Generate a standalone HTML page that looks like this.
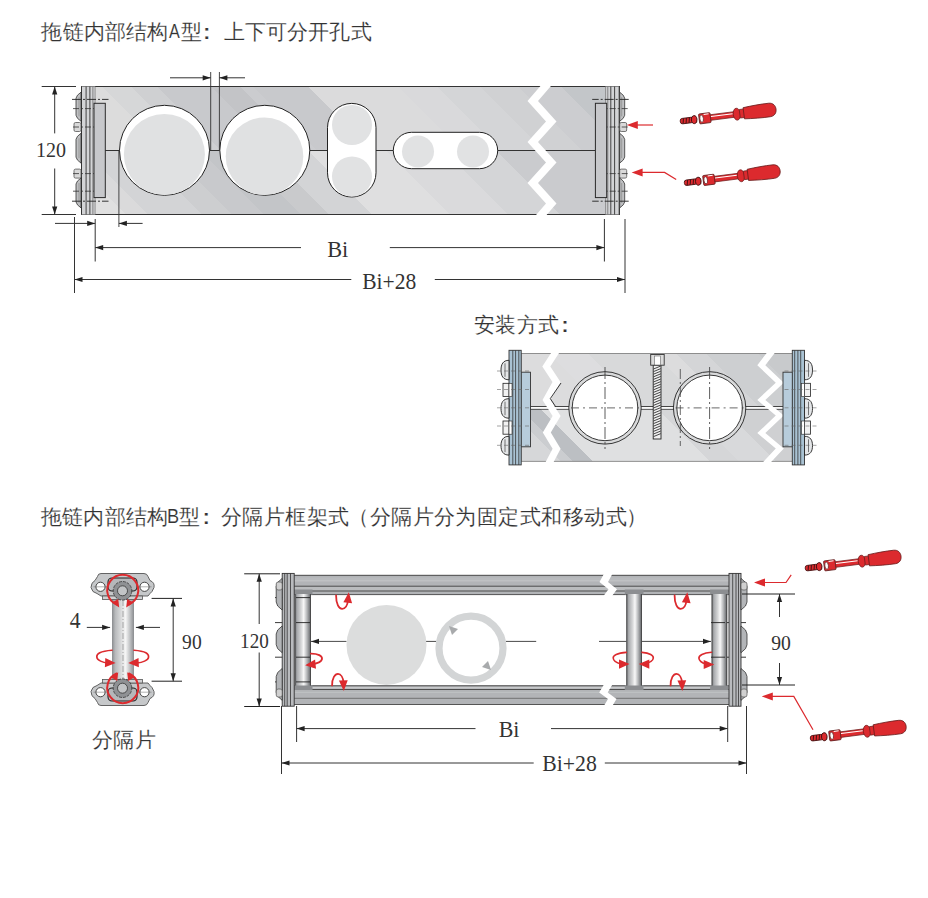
<!DOCTYPE html>
<html><head><meta charset="utf-8">
<style>
html,body{margin:0;padding:0;background:#fff;}
body{width:928px;height:898px;overflow:hidden;position:relative;font-family:"Liberation Sans",sans-serif;}
.t{position:absolute;white-space:nowrap;color:#333;-webkit-text-stroke:0.15px #fff;font-family:"Liberation Sans",sans-serif;font-size:21px;line-height:1;}
.m{font-family:"Liberation Mono",monospace;letter-spacing:0;}
svg{position:absolute;left:0;top:0;}
.sf{font-family:"Liberation Serif",serif;fill:#333;}
</style></head><body>
<svg width="928" height="898" viewBox="0 0 928 898">
<defs>
<linearGradient id="gAu" gradientUnits="userSpaceOnUse" x1="-200" y1="0" x2="250.0" y2="-450.0"><stop offset="0.0000" stop-color="#dcdcdc"/><stop offset="0.2389" stop-color="#dcdcdc"/><stop offset="0.2389" stop-color="#d6d7d8"/><stop offset="0.2722" stop-color="#d6d7d8"/><stop offset="0.2722" stop-color="#cfd0d2"/><stop offset="0.3011" stop-color="#cfd0d2"/><stop offset="0.3011" stop-color="#c8c9cc"/><stop offset="0.3611" stop-color="#c8c9cc"/><stop offset="0.3611" stop-color="#c3c4c7"/><stop offset="0.3933" stop-color="#c3c4c7"/><stop offset="0.3933" stop-color="#cbcccf"/><stop offset="0.4067" stop-color="#cbcccf"/><stop offset="0.4067" stop-color="#c8c9cc"/><stop offset="0.4678" stop-color="#c8c9cc"/><stop offset="0.4678" stop-color="#dbdbdc"/><stop offset="0.5678" stop-color="#dbdbdc"/><stop offset="0.5678" stop-color="#d9d9db"/><stop offset="0.6122" stop-color="#d9d9db"/><stop offset="0.6122" stop-color="#d4d5d7"/><stop offset="0.6589" stop-color="#d4d5d7"/><stop offset="0.6589" stop-color="#d0d1d3"/><stop offset="0.7022" stop-color="#d0d1d3"/><stop offset="0.7022" stop-color="#cccdd0"/><stop offset="0.7489" stop-color="#cccdd0"/><stop offset="0.7489" stop-color="#c3c6c9"/><stop offset="1.0000" stop-color="#c3c6c9"/></linearGradient>
<linearGradient id="gAl" gradientUnits="userSpaceOnUse" x1="-200" y1="0" x2="250.0" y2="-450.0"><stop offset="0.0000" stop-color="#e0e0e0"/><stop offset="0.1244" stop-color="#e0e0e0"/><stop offset="0.1244" stop-color="#dadadb"/><stop offset="0.1478" stop-color="#dadadb"/><stop offset="0.1478" stop-color="#d3d4d6"/><stop offset="0.2078" stop-color="#d3d4d6"/><stop offset="0.2078" stop-color="#cdced0"/><stop offset="0.2422" stop-color="#cdced0"/><stop offset="0.2422" stop-color="#c8c9cc"/><stop offset="0.2767" stop-color="#c8c9cc"/><stop offset="0.2767" stop-color="#c3c5c8"/><stop offset="0.3178" stop-color="#c3c5c8"/><stop offset="0.3178" stop-color="#c9cacc"/><stop offset="0.3489" stop-color="#c9cacc"/><stop offset="0.3489" stop-color="#d3d4d6"/><stop offset="0.3967" stop-color="#d3d4d6"/><stop offset="0.3967" stop-color="#dfdfe0"/><stop offset="0.4844" stop-color="#dfdfe0"/><stop offset="0.4844" stop-color="#dadadc"/><stop offset="0.5478" stop-color="#dadadc"/><stop offset="0.5478" stop-color="#d4d5d7"/><stop offset="0.6056" stop-color="#d4d5d7"/><stop offset="0.6056" stop-color="#cacbce"/><stop offset="1.0000" stop-color="#cacbce"/></linearGradient>
<linearGradient id="gIu" gradientUnits="userSpaceOnUse" x1="-200" y1="0" x2="250.0" y2="-450.0"><stop offset="0.0000" stop-color="#dcdcdd"/><stop offset="0.4389" stop-color="#dcdcdd"/><stop offset="0.4389" stop-color="#dddddf"/><stop offset="0.4833" stop-color="#dddddf"/><stop offset="0.4833" stop-color="#d8d9da"/><stop offset="0.5556" stop-color="#d8d9da"/><stop offset="0.5556" stop-color="#dcdcdd"/><stop offset="0.5811" stop-color="#dcdcdd"/><stop offset="0.5811" stop-color="#d4d5d7"/><stop offset="0.6144" stop-color="#d4d5d7"/><stop offset="0.6144" stop-color="#cdcfd1"/><stop offset="0.6722" stop-color="#cdcfd1"/><stop offset="0.6722" stop-color="#c8cacc"/><stop offset="1.0000" stop-color="#c8cacc"/></linearGradient>
<linearGradient id="gIl" gradientUnits="userSpaceOnUse" x1="-200" y1="0" x2="250.0" y2="-450.0"><stop offset="0.0000" stop-color="#d6d7d9"/><stop offset="0.3333" stop-color="#d6d7d9"/><stop offset="0.3333" stop-color="#cbcdd0"/><stop offset="0.3456" stop-color="#cbcdd0"/><stop offset="0.3456" stop-color="#bcbfc3"/><stop offset="0.3678" stop-color="#bcbfc3"/><stop offset="0.3678" stop-color="#dfe0e1"/><stop offset="0.4978" stop-color="#dfe0e1"/><stop offset="0.4978" stop-color="#d5d6d8"/><stop offset="0.5311" stop-color="#d5d6d8"/><stop offset="0.5311" stop-color="#d8d9db"/><stop offset="0.5722" stop-color="#d8d9db"/><stop offset="0.5722" stop-color="#cfd0d2"/><stop offset="1.0000" stop-color="#cfd0d2"/></linearGradient>
<linearGradient id="gRod" x1="0" y1="0" x2="1" y2="0">
<stop offset="0" stop-color="#8a8c8f"/><stop offset="0.15" stop-color="#b8babc"/><stop offset="0.4" stop-color="#d8d9da"/>
<stop offset="0.62" stop-color="#f6f6f6"/><stop offset="0.8" stop-color="#c4c6c8"/><stop offset="1" stop-color="#8a8c8f"/>
</linearGradient>
<linearGradient id="gRod2" x1="0" y1="0" x2="1" y2="0">
<stop offset="0" stop-color="#6f7174"/><stop offset="0.15" stop-color="#a9abae"/><stop offset="0.4" stop-color="#d6d7d8"/>
<stop offset="0.55" stop-color="#f8f8f8"/><stop offset="0.75" stop-color="#b6b8ba"/><stop offset="0.9" stop-color="#7e8083"/><stop offset="1" stop-color="#5e6063"/>
</linearGradient>
<linearGradient id="gRailT" x1="0" y1="0" x2="0" y2="1">
<stop offset="0" stop-color="#8e9093"/><stop offset="0.08" stop-color="#b9bbbd"/><stop offset="0.3" stop-color="#a9abae"/>
<stop offset="0.42" stop-color="#cfd0d2"/><stop offset="0.5" stop-color="#a4a6a9"/><stop offset="0.72" stop-color="#b4b6b9"/>
<stop offset="0.78" stop-color="#6f7174"/><stop offset="0.84" stop-color="#c9cacc"/><stop offset="0.94" stop-color="#b7b9bb"/><stop offset="1" stop-color="#555"/>
</linearGradient>
<linearGradient id="gRailB" x1="0" y1="1" x2="0" y2="0">
<stop offset="0" stop-color="#8e9093"/><stop offset="0.08" stop-color="#b9bbbd"/><stop offset="0.3" stop-color="#a9abae"/>
<stop offset="0.42" stop-color="#cfd0d2"/><stop offset="0.5" stop-color="#a4a6a9"/><stop offset="0.72" stop-color="#b4b6b9"/>
<stop offset="0.78" stop-color="#6f7174"/><stop offset="0.84" stop-color="#c9cacc"/><stop offset="0.94" stop-color="#b7b9bb"/><stop offset="1" stop-color="#555"/>
</linearGradient>
</defs>
<rect x="81.5" y="86.5" width="538" height="64" fill="url(#gAu)"/>
<rect x="81.5" y="150.5" width="538" height="64" fill="url(#gAl)"/>
<rect x="81.5" y="86.5" width="538" height="128" fill="none" stroke="#333" stroke-width="1"/>
<line x1="105" y1="150.5" x2="595" y2="150.5" stroke="#333" stroke-width="1" />
<line x1="210.7" y1="72" x2="210.7" y2="150" stroke="#333" stroke-width="0.9" />
<line x1="219.4" y1="72" x2="219.4" y2="150" stroke="#333" stroke-width="0.9" />
<circle cx="164.5" cy="150.3" r="45" fill="#fff" stroke="#222" stroke-width="1"/>
<circle cx="164.4" cy="154.5" r="40.5" fill="#e0e1e2"/>
<circle cx="264.8" cy="150.3" r="45" fill="#fff" stroke="#222" stroke-width="1"/>
<circle cx="264.5" cy="156.3" r="38.8" fill="#e0e1e2"/>
<rect x="327.5" y="103.4" width="48.5" height="93.6" rx="24.2" fill="#fff" stroke="#222" stroke-width="1"/>
<circle cx="352" cy="125" r="20" fill="#e1e2e3"/>
<circle cx="352" cy="176.5" r="20" fill="#e1e2e3"/>
<rect x="393.3" y="132.3" width="104.4" height="36.4" rx="18.2" fill="#fff" stroke="#222" stroke-width="1"/>
<circle cx="418" cy="151.5" r="16" fill="#e1e2e3"/>
<circle cx="473" cy="151.5" r="16" fill="#e1e2e3"/>
<polygon points="543.0,83.0 527.5,101.0 546.0,121.6 527.5,142.0 546.0,162.6 527.5,183.0 546.0,203.5 533.0,218.5 543.5,218.5 556.5,203.5 538.0,183.0 556.5,162.6 538.0,142.0 556.5,121.6 538.0,101.0 553.5,83.0" fill="#fff"/>
<g ><rect x="81.5" y="86.5" width="13.5" height="128" fill="#d3d4d6"/><line x1="86.1" y1="86.5" x2="86.1" y2="214.5" stroke="#333" stroke-width="0.9"/><line x1="89.9" y1="86.5" x2="89.9" y2="214.5" stroke="#333" stroke-width="0.9"/><line x1="92.9" y1="86.5" x2="92.9" y2="214.5" stroke="#777" stroke-width="0.9"/><line x1="95.1" y1="86.5" x2="95.1" y2="214.5" stroke="#888" stroke-width="0.9"/><line x1="81.5" y1="86.5" x2="81.5" y2="214.5" stroke="#333" stroke-width="1"/><rect x="94" y="103.3" width="11.3" height="94.3" fill="#c7c8cb" stroke="#2a2a2a" stroke-width="1"/><path d="M81,92.2 L77.5,95.2 L76,98.2 L76,115.3 L77.5,118.3 L81,121.3 Z" fill="#bfc0c2" stroke="#333" stroke-width="0.8"/><line x1="79" y1="97.2" x2="79" y2="116.3" stroke="#888" stroke-width="0.7"/><path d="M81,133.3 L77.5,136.3 L76,139.3 L76,157.1 L77.5,160.1 L81,163.1 Z" fill="#bfc0c2" stroke="#333" stroke-width="0.8"/><line x1="79" y1="138.3" x2="79" y2="158.1" stroke="#888" stroke-width="0.7"/><path d="M81,178 L77.5,181 L76,184 L76,201.9 L77.5,204.9 L81,207.9 Z" fill="#bfc0c2" stroke="#333" stroke-width="0.8"/><line x1="79" y1="183" x2="79" y2="202.9" stroke="#888" stroke-width="0.7"/><rect x="74" y="122.5" width="7" height="9" rx="1.5" fill="#d9d9d9" stroke="#555" stroke-width="0.8"/><rect x="74" y="169.1" width="7" height="9" rx="1.5" fill="#d9d9d9" stroke="#555" stroke-width="0.8"/><line x1="72" y1="99.4" x2="108.5" y2="99.4" stroke="#222" stroke-width="0.9" stroke-dasharray="9,2,2,2"/><line x1="72" y1="201.2" x2="108.5" y2="201.2" stroke="#222" stroke-width="0.9" stroke-dasharray="9,2,2,2"/><line x1="73" y1="108.6" x2="94" y2="108.6" stroke="#333" stroke-width="0.8" stroke-dasharray="6,2,2,2"/><line x1="73" y1="127" x2="94" y2="127" stroke="#333" stroke-width="0.8" stroke-dasharray="6,2,2,2"/><line x1="73" y1="173.6" x2="94" y2="173.6" stroke="#333" stroke-width="0.8" stroke-dasharray="6,2,2,2"/><line x1="73" y1="191.2" x2="94" y2="191.2" stroke="#333" stroke-width="0.8" stroke-dasharray="6,2,2,2"/></g>
<g transform="translate(700.7,0) scale(-1,1)"><rect x="81.5" y="86.5" width="13.5" height="128" fill="#d3d4d6"/><line x1="86.1" y1="86.5" x2="86.1" y2="214.5" stroke="#333" stroke-width="0.9"/><line x1="89.9" y1="86.5" x2="89.9" y2="214.5" stroke="#333" stroke-width="0.9"/><line x1="92.9" y1="86.5" x2="92.9" y2="214.5" stroke="#777" stroke-width="0.9"/><line x1="95.1" y1="86.5" x2="95.1" y2="214.5" stroke="#888" stroke-width="0.9"/><line x1="81.5" y1="86.5" x2="81.5" y2="214.5" stroke="#333" stroke-width="1"/><rect x="94" y="103.3" width="11.3" height="94.3" fill="#c7c8cb" stroke="#2a2a2a" stroke-width="1"/><path d="M81,92.2 L77.5,95.2 L76,98.2 L76,115.3 L77.5,118.3 L81,121.3 Z" fill="#bfc0c2" stroke="#333" stroke-width="0.8"/><line x1="79" y1="97.2" x2="79" y2="116.3" stroke="#888" stroke-width="0.7"/><path d="M81,133.3 L77.5,136.3 L76,139.3 L76,157.1 L77.5,160.1 L81,163.1 Z" fill="#bfc0c2" stroke="#333" stroke-width="0.8"/><line x1="79" y1="138.3" x2="79" y2="158.1" stroke="#888" stroke-width="0.7"/><path d="M81,178 L77.5,181 L76,184 L76,201.9 L77.5,204.9 L81,207.9 Z" fill="#bfc0c2" stroke="#333" stroke-width="0.8"/><line x1="79" y1="183" x2="79" y2="202.9" stroke="#888" stroke-width="0.7"/><rect x="74" y="122.5" width="7" height="9" rx="1.5" fill="#d9d9d9" stroke="#555" stroke-width="0.8"/><rect x="74" y="169.1" width="7" height="9" rx="1.5" fill="#d9d9d9" stroke="#555" stroke-width="0.8"/><line x1="72" y1="99.4" x2="108.5" y2="99.4" stroke="#222" stroke-width="0.9" stroke-dasharray="9,2,2,2"/><line x1="72" y1="201.2" x2="108.5" y2="201.2" stroke="#222" stroke-width="0.9" stroke-dasharray="9,2,2,2"/><line x1="73" y1="108.6" x2="94" y2="108.6" stroke="#333" stroke-width="0.8" stroke-dasharray="6,2,2,2"/><line x1="73" y1="127" x2="94" y2="127" stroke="#333" stroke-width="0.8" stroke-dasharray="6,2,2,2"/><line x1="73" y1="173.6" x2="94" y2="173.6" stroke="#333" stroke-width="0.8" stroke-dasharray="6,2,2,2"/><line x1="73" y1="191.2" x2="94" y2="191.2" stroke="#333" stroke-width="0.8" stroke-dasharray="6,2,2,2"/></g>
<line x1="41.7" y1="86.5" x2="76" y2="86.5" stroke="#333" stroke-width="1" />
<line x1="41.7" y1="214.5" x2="76" y2="214.5" stroke="#333" stroke-width="1" />
<line x1="54.7" y1="86.5" x2="54.7" y2="133.4" stroke="#333" stroke-width="1" />
<polygon points="54.7,86.5 57.3,94.5 52.1,94.5" fill="#222"/>
<line x1="54.7" y1="168.5" x2="54.7" y2="214.5" stroke="#333" stroke-width="1" />
<polygon points="54.7,214.5 52.1,206.5 57.3,206.5" fill="#222"/>
<text x="35.9" y="157.0" class="sf" font-size="20.31" textLength="30.0" lengthAdjust="spacingAndGlyphs">120</text>
<line x1="170" y1="77.8" x2="210.7" y2="77.8" stroke="#333" stroke-width="1" />
<polygon points="210.7,77.8 202.7,80.4 202.7,75.2" fill="#222"/>
<line x1="219.4" y1="77.8" x2="245" y2="77.8" stroke="#333" stroke-width="1" />
<polygon points="219.4,77.8 227.4,75.2 227.4,80.4" fill="#222"/>
<line x1="118.9" y1="150" x2="118.9" y2="227" stroke="#333" stroke-width="0.9" />
<line x1="55" y1="223.4" x2="95.2" y2="223.4" stroke="#333" stroke-width="1" />
<polygon points="95.2,223.4 87.2,226.0 87.2,220.8" fill="#222"/>
<line x1="118.9" y1="223.4" x2="142.6" y2="223.4" stroke="#333" stroke-width="1" />
<polygon points="118.9,223.4 126.9,220.8 126.9,226.0" fill="#222"/>
<line x1="95.2" y1="219" x2="95.2" y2="261.5" stroke="#333" stroke-width="1" />
<line x1="604.4" y1="219" x2="604.4" y2="261.5" stroke="#333" stroke-width="1" />
<line x1="95.2" y1="247.6" x2="301" y2="247.6" stroke="#333" stroke-width="1" />
<polygon points="95.2,247.6 103.2,245.0 103.2,250.2" fill="#222"/>
<line x1="389.8" y1="247.6" x2="604.4" y2="247.6" stroke="#333" stroke-width="1" />
<polygon points="604.4,247.6 596.4,250.2 596.4,245.0" fill="#222"/>
<text x="327.24" y="256.7" class="sf" font-size="22.62" textLength="21.1" lengthAdjust="spacingAndGlyphs">Bi</text>
<line x1="74.5" y1="217" x2="74.5" y2="293" stroke="#333" stroke-width="1" />
<line x1="625" y1="219" x2="625" y2="293" stroke="#333" stroke-width="1" />
<line x1="74.5" y1="279.5" x2="351.3" y2="279.5" stroke="#333" stroke-width="1" />
<polygon points="74.5,279.5 82.5,276.9 82.5,282.1" fill="#222"/>
<line x1="434.8" y1="279.5" x2="625" y2="279.5" stroke="#333" stroke-width="1" />
<polygon points="625.0,279.5 617.0,282.1 617.0,276.9" fill="#222"/>
<text x="362.26" y="288.7" class="sf" font-size="22.77" textLength="54.07" lengthAdjust="spacingAndGlyphs">Bi+28</text>
<line x1="653" y1="125" x2="634" y2="125" stroke="#dc2a2e" stroke-width="1.2"/>
<polygon points="626.8,125.0 637.8,121.0 637.8,129.0" fill="#dc2a2e"/>
<polyline points="676.2,179.6 664.6,172.4 638,172.4" fill="none" stroke="#dc2a2e" stroke-width="1.2"/>
<polygon points="631.6,172.4 642.6,168.4 642.6,176.4" fill="#dc2a2e"/>
<g transform="translate(680.3,121.4) rotate(-7.3) scale(1.0)"><rect x="0" y="-2.7" width="13" height="5.4" rx="2.2" fill="#dc2a2e" stroke="#4a1414" stroke-width="0.9"/><path d="M3.5,-2.5 l-1,5 M6.5,-2.5 l-1,5 M9.5,-2.5 l-1,5" stroke="#3a1010" stroke-width="0.9"/><ellipse cx="14" cy="0" rx="2.8" ry="4" fill="#dc2a2e" stroke="#3a1010" stroke-width="0.9"/><rect x="19" y="-5" width="11.5" height="10" rx="1" fill="#dc2a2e" stroke="#5a1a1a" stroke-width="0.8"/><ellipse cx="21.5" cy="0" rx="1.8" ry="3.6" fill="#fff" stroke="#5a1a1a" stroke-width="0.7"/><path d="M24,-4 h5" stroke="#fff" stroke-width="1"/><rect x="30.5" y="-2.8" width="24" height="5.6" fill="#dc2a2e" stroke="#6a1c1c" stroke-width="0.7"/><path d="M31,-1 h22" stroke="#fff" stroke-width="1"/><ellipse cx="57" cy="0" rx="3.6" ry="6" fill="#dc2a2e" stroke="#6a1c1c" stroke-width="0.7"/><rect x="60" y="-4.3" width="5" height="8.6" fill="#dc2a2e" stroke="#6a1c1c" stroke-width="0.7"/><path d="M64,-5.6 C72,-6.4 82,-7 90,-6.8 C94.5,-6.6 96.5,-3.5 96.5,0 C96.5,3.5 94.5,6.6 90,6.8 C82,7 72,6.4 64,5.6 Z" fill="#dc2a2e" stroke="#6a1c1c" stroke-width="0.8"/></g>
<g transform="translate(684.4,183) rotate(-7.3) scale(1.0)"><rect x="0" y="-2.7" width="13" height="5.4" rx="2.2" fill="#dc2a2e" stroke="#4a1414" stroke-width="0.9"/><path d="M3.5,-2.5 l-1,5 M6.5,-2.5 l-1,5 M9.5,-2.5 l-1,5" stroke="#3a1010" stroke-width="0.9"/><ellipse cx="14" cy="0" rx="2.8" ry="4" fill="#dc2a2e" stroke="#3a1010" stroke-width="0.9"/><rect x="19" y="-5" width="11.5" height="10" rx="1" fill="#dc2a2e" stroke="#5a1a1a" stroke-width="0.8"/><ellipse cx="21.5" cy="0" rx="1.8" ry="3.6" fill="#fff" stroke="#5a1a1a" stroke-width="0.7"/><path d="M24,-4 h5" stroke="#fff" stroke-width="1"/><rect x="30.5" y="-2.8" width="24" height="5.6" fill="#dc2a2e" stroke="#6a1c1c" stroke-width="0.7"/><path d="M31,-1 h22" stroke="#fff" stroke-width="1"/><ellipse cx="57" cy="0" rx="3.6" ry="6" fill="#dc2a2e" stroke="#6a1c1c" stroke-width="0.7"/><rect x="60" y="-4.3" width="5" height="8.6" fill="#dc2a2e" stroke="#6a1c1c" stroke-width="0.7"/><path d="M64,-5.6 C72,-6.4 82,-7 90,-6.8 C94.5,-6.6 96.5,-3.5 96.5,0 C96.5,3.5 94.5,6.6 90,6.8 C82,7 72,6.4 64,5.6 Z" fill="#dc2a2e" stroke="#6a1c1c" stroke-width="0.8"/></g>
<rect x="521" y="353.5" width="272.5" height="54.5" fill="url(#gIu)"/>
<rect x="521" y="408" width="272.5" height="53.3" fill="url(#gIl)"/>
<rect x="521" y="353.5" width="272.5" height="107.8" fill="none" stroke="#777" stroke-width="0.8"/>
<line x1="530" y1="406.6" x2="784" y2="406.6" stroke="#222" stroke-width="0.9" />
<line x1="530" y1="409.2" x2="784" y2="409.2" stroke="#222" stroke-width="0.9" />
<rect x="530" y="407.1" width="254" height="1.6" fill="#fff"/>
<circle cx="605" cy="407.9" r="36.2" fill="#d8d9da" stroke="#222" stroke-width="0.9"/>
<circle cx="605" cy="407.9" r="32.8" fill="#fff" stroke="#222" stroke-width="0.9"/>
<line x1="605" y1="367" x2="605" y2="449" stroke="#333" stroke-width="0.8" stroke-dasharray="12,3,2,3"/>
<line x1="571" y1="407.9" x2="639" y2="407.9" stroke="#444" stroke-width="0.8" stroke-dasharray="8,4,2,4"/>
<circle cx="709.6" cy="407.9" r="36.2" fill="#d8d9da" stroke="#222" stroke-width="0.9"/>
<circle cx="709.6" cy="407.9" r="32.8" fill="#fff" stroke="#222" stroke-width="0.9"/>
<line x1="709.6" y1="367" x2="709.6" y2="449" stroke="#333" stroke-width="0.8" stroke-dasharray="12,3,2,3"/>
<line x1="675.6" y1="407.9" x2="743.6" y2="407.9" stroke="#444" stroke-width="0.8" stroke-dasharray="8,4,2,4"/>
<line x1="680.3" y1="369" x2="680.3" y2="446" stroke="#444" stroke-width="0.8" stroke-dasharray="10,3,2,3"/>
<rect x="653.2" y="365" width="7.8" height="74" fill="#f0f0f0" stroke="#222" stroke-width="0.9"/>
<path d="M653.5,369.0 L660.8,366.0 M653.5,371.6 L660.8,368.6 M653.5,374.2 L660.8,371.2 M653.5,376.8 L660.8,373.8 M653.5,379.4 L660.8,376.4 M653.5,382.0 L660.8,379.0 M653.5,384.6 L660.8,381.6 M653.5,387.2 L660.8,384.2 M653.5,389.8 L660.8,386.8 M653.5,392.4 L660.8,389.4 M653.5,395.0 L660.8,392.0 M653.5,397.6 L660.8,394.6 M653.5,400.2 L660.8,397.2 M653.5,402.8 L660.8,399.8 M653.5,405.4 L660.8,402.4 M653.5,408.0 L660.8,405.0 M653.5,410.6 L660.8,407.6 M653.5,413.2 L660.8,410.2 M653.5,415.8 L660.8,412.8 M653.5,418.4 L660.8,415.4 M653.5,421.0 L660.8,418.0 M653.5,423.6 L660.8,420.6 M653.5,426.2 L660.8,423.2 M653.5,428.8 L660.8,425.8 M653.5,431.4 L660.8,428.4 M653.5,434.0 L660.8,431.0 M653.5,436.6 L660.8,433.6" stroke="#333" stroke-width="0.9"/>
<rect x="650.7" y="354.5" width="13.5" height="10.7" fill="#dcdcdc" stroke="#333" stroke-width="0.9"/>
<rect x="654.5" y="356" width="6" height="9" fill="#fff" stroke="#666" stroke-width="0.6"/>
<polygon points="553.0,350.0 542.3,366.6 552.5,381.9 542.5,400.0 552.6,416.0 542.8,432.5 552.6,448.8 544.6,464.0 552.6,464.0 560.6,448.8 550.8,432.5 560.6,416.0 550.5,400.0 560.5,381.9 550.3,366.6 561.0,350.0" fill="#fff"/>
<polyline points="561,383 550.3,398.6 555.5,406.5" fill="none" stroke="#222" stroke-width="0.9"/>
<polygon points="769.0,350.0 757.3,365.2 775.8,382.7 757.3,400.0 775.8,415.6 757.3,433.1 775.8,448.6 761.2,464.0 769.2,464.0 783.8,448.6 765.3,433.1 783.8,415.6 765.3,400.0 783.8,382.7 765.3,365.2 777.0,350.0" fill="#fff"/>
<g ><rect x="521" y="372.2" width="9.5" height="74.6" fill="#b7ccdb" stroke="#333" stroke-width="0.9"/><rect x="509" y="350.3" width="12.2" height="114.6" fill="#a9c2d3" stroke="#333" stroke-width="0.9"/><line x1="512.8" y1="350.3" x2="512.8" y2="464.9" stroke="#333" stroke-width="0.8"/><line x1="515.6" y1="350.3" x2="515.6" y2="464.9" stroke="#333" stroke-width="0.8"/><line x1="518.8" y1="350.3" x2="518.8" y2="464.9" stroke="#333" stroke-width="0.8"/><path d="M509,360.3 C503,360.3 501,364.3 501,370.05 C501,375.8 503,379.8 509,379.8 Z" fill="#e4e6e8" stroke="#222" stroke-width="0.9"/><path d="M505,363.3 L505,376.8" stroke="#555" stroke-width="0.8"/><path d="M509,398.7 C503,398.7 501,402.7 501,408.45 C501,414.2 503,418.2 509,418.2 Z" fill="#e4e6e8" stroke="#222" stroke-width="0.9"/><path d="M505,401.7 L505,415.2" stroke="#555" stroke-width="0.8"/><path d="M509,436.3 C503,436.3 501,440.3 501,445.70000000000005 C501,451.1 503,455.1 509,455.1 Z" fill="#e4e6e8" stroke="#222" stroke-width="0.9"/><path d="M505,439.3 L505,452.1" stroke="#555" stroke-width="0.8"/><rect x="503" y="383.3" width="6" height="13.300000000000011" fill="#f2f2f2" stroke="#222" stroke-width="0.8"/><rect x="509" y="383.3" width="3" height="13.300000000000011" fill="#fff" stroke="#222" stroke-width="0.6"/><rect x="503" y="421" width="6" height="13.199999999999989" fill="#f2f2f2" stroke="#222" stroke-width="0.8"/><rect x="509" y="421" width="3" height="13.199999999999989" fill="#fff" stroke="#222" stroke-width="0.6"/><line x1="497" y1="371" x2="530" y2="371" stroke="#666" stroke-width="0.6" stroke-dasharray="4,3"/><line x1="497" y1="389.5" x2="530" y2="389.5" stroke="#666" stroke-width="0.6" stroke-dasharray="4,3"/><line x1="497" y1="407.8" x2="530" y2="407.8" stroke="#666" stroke-width="0.6" stroke-dasharray="4,3"/><line x1="497" y1="426" x2="530" y2="426" stroke="#666" stroke-width="0.6" stroke-dasharray="4,3"/><line x1="497" y1="445.3" x2="530" y2="445.3" stroke="#666" stroke-width="0.6" stroke-dasharray="4,3"/></g>
<g transform="translate(1313.5,0) scale(-1,1)"><rect x="521" y="372.2" width="9.5" height="74.6" fill="#b7ccdb" stroke="#333" stroke-width="0.9"/><rect x="509" y="350.3" width="12.2" height="114.6" fill="#a9c2d3" stroke="#333" stroke-width="0.9"/><line x1="512.8" y1="350.3" x2="512.8" y2="464.9" stroke="#333" stroke-width="0.8"/><line x1="515.6" y1="350.3" x2="515.6" y2="464.9" stroke="#333" stroke-width="0.8"/><line x1="518.8" y1="350.3" x2="518.8" y2="464.9" stroke="#333" stroke-width="0.8"/><path d="M509,360.3 C503,360.3 501,364.3 501,370.05 C501,375.8 503,379.8 509,379.8 Z" fill="#e4e6e8" stroke="#222" stroke-width="0.9"/><path d="M505,363.3 L505,376.8" stroke="#555" stroke-width="0.8"/><path d="M509,398.7 C503,398.7 501,402.7 501,408.45 C501,414.2 503,418.2 509,418.2 Z" fill="#e4e6e8" stroke="#222" stroke-width="0.9"/><path d="M505,401.7 L505,415.2" stroke="#555" stroke-width="0.8"/><path d="M509,436.3 C503,436.3 501,440.3 501,445.70000000000005 C501,451.1 503,455.1 509,455.1 Z" fill="#e4e6e8" stroke="#222" stroke-width="0.9"/><path d="M505,439.3 L505,452.1" stroke="#555" stroke-width="0.8"/><rect x="503" y="383.3" width="6" height="13.300000000000011" fill="#f2f2f2" stroke="#222" stroke-width="0.8"/><rect x="509" y="383.3" width="3" height="13.300000000000011" fill="#fff" stroke="#222" stroke-width="0.6"/><rect x="503" y="421" width="6" height="13.199999999999989" fill="#f2f2f2" stroke="#222" stroke-width="0.8"/><rect x="509" y="421" width="3" height="13.199999999999989" fill="#fff" stroke="#222" stroke-width="0.6"/><line x1="497" y1="371" x2="530" y2="371" stroke="#666" stroke-width="0.6" stroke-dasharray="4,3"/><line x1="497" y1="389.5" x2="530" y2="389.5" stroke="#666" stroke-width="0.6" stroke-dasharray="4,3"/><line x1="497" y1="407.8" x2="530" y2="407.8" stroke="#666" stroke-width="0.6" stroke-dasharray="4,3"/><line x1="497" y1="426" x2="530" y2="426" stroke="#666" stroke-width="0.6" stroke-dasharray="4,3"/><line x1="497" y1="445.3" x2="530" y2="445.3" stroke="#666" stroke-width="0.6" stroke-dasharray="4,3"/></g>
<rect x="112" y="598" width="22" height="83" fill="url(#gRod)"/>
<line x1="123" y1="600" x2="123" y2="680" stroke="#777" stroke-width="0.6" stroke-dasharray="6,2,1,2"/>
<g ><path d="M101,573.5 L144,573.5 Q147,573.5 148,576.5 L150,580.5 Q155,582.5 154,587.5 Q152,592.5 150,593.5 L148,596.0 L101,596.0 L97,593.5 Q92,592.5 91,587.5 Q91,582.5 95,580.5 L97.5,576.5 Q98,573.5 101,573.5 Z" fill="#c6c8ca" stroke="#555" stroke-width="0.9"/><rect x="102.5" y="596.0" width="40" height="3.6" fill="#d0d1d3" stroke="#555" stroke-width="0.8"/><rect x="108" y="578.0" width="29" height="13" rx="4" fill="#b5b7ba" stroke="#222" stroke-width="1.1"/><circle cx="100.5" cy="586.8" r="4.6" fill="#fff" stroke="#333" stroke-width="0.9"/><line x1="93.5" y1="586.8" x2="107.5" y2="586.8" stroke="#666" stroke-width="0.5"/><circle cx="144.5" cy="586.8" r="4.6" fill="#fff" stroke="#333" stroke-width="0.9"/><line x1="137.5" y1="586.8" x2="151.5" y2="586.8" stroke="#666" stroke-width="0.5"/><circle cx="122.5" cy="590.8" r="9.3" fill="#8f9194" stroke="#333" stroke-width="0.8" stroke-dasharray="3,1"/><circle cx="122.5" cy="590.8" r="5" fill="#c2c4c6" stroke="#333" stroke-width="0.8"/></g>
<g transform="translate(0,1385.0) scale(1,-1)"><path d="M101,679.5 L144,679.5 Q147,679.5 148,682.5 L150,686.5 Q155,688.5 154,693.5 Q152,698.5 150,699.5 L148,702.0 L101,702.0 L97,699.5 Q92,698.5 91,693.5 Q91,688.5 95,686.5 L97.5,682.5 Q98,679.5 101,679.5 Z" fill="#c6c8ca" stroke="#555" stroke-width="0.9"/><rect x="102.5" y="702.0" width="40" height="3.6" fill="#d0d1d3" stroke="#555" stroke-width="0.8"/><rect x="108" y="684.0" width="29" height="13" rx="4" fill="#b5b7ba" stroke="#222" stroke-width="1.1"/><circle cx="100.5" cy="692.8" r="4.6" fill="#fff" stroke="#333" stroke-width="0.9"/><line x1="93.5" y1="692.8" x2="107.5" y2="692.8" stroke="#666" stroke-width="0.5"/><circle cx="144.5" cy="692.8" r="4.6" fill="#fff" stroke="#333" stroke-width="0.9"/><line x1="137.5" y1="692.8" x2="151.5" y2="692.8" stroke="#666" stroke-width="0.5"/><circle cx="122.5" cy="696.8" r="9.3" fill="#8f9194" stroke="#333" stroke-width="0.8" stroke-dasharray="3,1"/><circle cx="122.5" cy="696.8" r="5" fill="#c2c4c6" stroke="#333" stroke-width="0.8"/></g>
<path d="M116.5,604.5 A15.5,15.5 0 1 1 129,604.5" fill="none" stroke="#dc2a2e" stroke-width="2" stroke-linecap="round"/>
<polygon points="119.2,607.6 112.0,602.6 118.2,598.9" fill="#dc2a2e"/>
<polygon points="126.2,607.6 127.2,598.9 133.4,602.6" fill="#dc2a2e"/>
<path d="M116.5,673.5 A15.5,15.5 0 1 0 129,673.5" fill="none" stroke="#dc2a2e" stroke-width="2" stroke-linecap="round"/>
<polygon points="118.2,672.2 117.2,680.9 111.0,677.2" fill="#dc2a2e"/>
<polygon points="127.2,672.2 134.4,677.2 128.2,680.9" fill="#dc2a2e"/>
<path d="M112,650.2 C100,651 96.5,654 96.8,657 C97,660.5 103,662.5 108,663" fill="none" stroke="#dc2a2e" stroke-width="1.6" stroke-linecap="round"/>
<path d="M134,650.2 C146,651 148.8,654 148.6,657 C148.4,660.5 142,662.5 137,663" fill="none" stroke="#dc2a2e" stroke-width="1.6" stroke-linecap="round"/>
<polygon points="115.6,663.1 104.9,667.2 105.3,658.0" fill="#dc2a2e"/>
<polygon points="128.2,663.1 138.5,658.0 138.9,667.2" fill="#dc2a2e"/>
<line x1="86.8" y1="627.4" x2="110.1" y2="627.4" stroke="#333" stroke-width="1" />
<polygon points="110.1,627.4 102.1,630.0 102.1,624.8" fill="#222"/>
<line x1="135.9" y1="627.4" x2="160" y2="627.4" stroke="#333" stroke-width="1" />
<polygon points="135.9,627.4 143.9,624.8 143.9,630.0" fill="#222"/>
<text x="69.66" y="628.0" class="sf" font-size="23.23" textLength="10.78" lengthAdjust="spacingAndGlyphs">4</text>
<line x1="151.6" y1="598.4" x2="182" y2="598.4" stroke="#222" stroke-width="1" />
<line x1="151.6" y1="681.2" x2="182" y2="681.2" stroke="#222" stroke-width="1" />
<line x1="173.2" y1="598.4" x2="173.2" y2="681.2" stroke="#333" stroke-width="1" />
<polygon points="173.2,681.2 170.6,673.2 175.8,673.2" fill="#222"/>
<polygon points="173.2,598.4 175.8,606.4 170.6,606.4" fill="#222"/>
<text x="182.11" y="649.4" class="sf" font-size="20.92" textLength="19.58" lengthAdjust="spacingAndGlyphs">90</text>
<rect x="294" y="575" width="435" height="19.8" fill="#b2b4b7"/>
<rect x="294" y="577.5" width="435" height="3" fill="#b8babd"/>
<rect x="294" y="587" width="435" height="3.5" fill="#babcbe"/>
<line x1="294" y1="575.3" x2="729" y2="575.3" stroke="#4a4a4a" stroke-width="1" />
<line x1="294" y1="580.9" x2="729" y2="580.9" stroke="#c9cbcd" stroke-width="0.8" />
<line x1="294" y1="586.2" x2="729" y2="586.2" stroke="#4e4e4e" stroke-width="1" />
<line x1="294" y1="591" x2="729" y2="591" stroke="#4e4e4e" stroke-width="1" />
<line x1="294" y1="594.6" x2="729" y2="594.6" stroke="#555" stroke-width="1" />
<rect x="294" y="685.4" width="435" height="19.4" fill="#b2b4b7"/>
<rect x="294" y="686.2" width="435" height="2.6" fill="#bcbec0"/>
<line x1="294" y1="685.8" x2="729" y2="685.8" stroke="#4a4a4a" stroke-width="1" />
<line x1="294" y1="687.6" x2="729" y2="687.6" stroke="#d0d1d3" stroke-width="0.7" />
<line x1="294" y1="689.5" x2="729" y2="689.5" stroke="#4e4e4e" stroke-width="1" />
<line x1="294" y1="692.3" x2="729" y2="692.3" stroke="#c4c6c8" stroke-width="0.8" />
<line x1="294" y1="698.3" x2="729" y2="698.3" stroke="#6a6a6a" stroke-width="0.9" />
<line x1="294" y1="704.5" x2="729" y2="704.5" stroke="#555" stroke-width="1" />
<polygon points="606.0,570.0 599.5,582.0 608.5,589.2 602.0,598.0 610.5,598.0 617.0,589.2 608.0,582.0 614.5,570.0" fill="#fff"/>
<polygon points="606.0,681.0 599.2,692.5 608.0,699.0 602.0,709.0 610.5,709.0 616.5,699.0 607.7,692.5 614.5,681.0" fill="#fff"/>
<rect x="293.2" y="589.5" width="19.30000000000001" height="5" fill="#8c8e91"/>
<rect x="293.2" y="685" width="19.30000000000001" height="5" fill="#8c8e91"/>
<rect x="294.7" y="594" width="16.30000000000001" height="91.5" fill="url(#gRod2)"/>
<line x1="295.2" y1="594" x2="295.2" y2="685.5" stroke="#444" stroke-width="0.8" />
<line x1="310.5" y1="594" x2="310.5" y2="685.5" stroke="#444" stroke-width="0.8" />
<rect x="624.8" y="589.5" width="18.700000000000045" height="5" fill="#8c8e91"/>
<rect x="624.8" y="685" width="18.700000000000045" height="5" fill="#8c8e91"/>
<rect x="626.3" y="594" width="15.700000000000045" height="91.5" fill="url(#gRod2)"/>
<line x1="626.8" y1="594" x2="626.8" y2="685.5" stroke="#444" stroke-width="0.8" />
<line x1="641.5" y1="594" x2="641.5" y2="685.5" stroke="#444" stroke-width="0.8" />
<rect x="710.1" y="589.5" width="18.600000000000023" height="5" fill="#8c8e91"/>
<rect x="710.1" y="685" width="18.600000000000023" height="5" fill="#8c8e91"/>
<rect x="711.6" y="594" width="15.600000000000023" height="91.5" fill="url(#gRod2)"/>
<line x1="712.1" y1="594" x2="712.1" y2="685.5" stroke="#444" stroke-width="0.8" />
<line x1="726.7" y1="594" x2="726.7" y2="685.5" stroke="#444" stroke-width="0.8" />
<line x1="275" y1="597.6" x2="311" y2="597.6" stroke="#222" stroke-width="0.9" stroke-dasharray="14,2,3,2"/>
<line x1="275" y1="622.6" x2="311" y2="622.6" stroke="#222" stroke-width="0.9" stroke-dasharray="14,2,3,2"/>
<line x1="275" y1="657.2" x2="311" y2="657.2" stroke="#222" stroke-width="0.9" stroke-dasharray="14,2,3,2"/>
<line x1="275" y1="681.9" x2="311" y2="681.9" stroke="#222" stroke-width="0.9" stroke-dasharray="14,2,3,2"/>
<line x1="711" y1="622.6" x2="748" y2="622.6" stroke="#222" stroke-width="0.9" stroke-dasharray="14,2,3,2"/>
<line x1="711" y1="657.2" x2="748" y2="657.2" stroke="#222" stroke-width="0.9" stroke-dasharray="14,2,3,2"/>
<g ><rect x="282.2" y="573.4" width="12" height="132.8" fill="#b9bbbe" stroke="#333" stroke-width="0.9"/><line x1="284.7" y1="573.4" x2="284.7" y2="706.2" stroke="#333" stroke-width="0.8"/><line x1="287.2" y1="573.4" x2="287.2" y2="706.2" stroke="#333" stroke-width="0.8"/><line x1="290.5" y1="573.4" x2="290.5" y2="706.2" stroke="#333" stroke-width="0.8"/><path d="M282.2,578.4 L277.7,582.4 L276.2,586.4 L276.2,602 L277.7,606 L282.2,610 Z" fill="#b3b5b8" stroke="#333" stroke-width="0.8"/><path d="M282.2,626 L277.7,630 L276.2,634 L276.2,644.7 L277.7,648.7 L282.2,652.7 Z" fill="#b3b5b8" stroke="#333" stroke-width="0.8"/><path d="M282.2,668.5 L277.7,672.5 L276.2,676.5 L276.2,692.3 L277.7,696.3 L282.2,700.3 Z" fill="#b3b5b8" stroke="#333" stroke-width="0.8"/><rect x="276.2" y="582" width="6" height="8" rx="2" fill="#d0d0d0" stroke="#555" stroke-width="0.7"/><rect x="276.2" y="689" width="6" height="8" rx="2" fill="#d0d0d0" stroke="#555" stroke-width="0.7"/></g>
<g transform="translate(1476,0) scale(-1,1)"><rect x="735" y="573.4" width="12" height="132.8" fill="#b9bbbe" stroke="#333" stroke-width="0.9"/><line x1="737.5" y1="573.4" x2="737.5" y2="706.2" stroke="#333" stroke-width="0.8"/><line x1="740" y1="573.4" x2="740" y2="706.2" stroke="#333" stroke-width="0.8"/><line x1="743.3" y1="573.4" x2="743.3" y2="706.2" stroke="#333" stroke-width="0.8"/><path d="M735,578.4 L730.5,582.4 L729,586.4 L729,602 L730.5,606 L735,610 Z" fill="#b3b5b8" stroke="#333" stroke-width="0.8"/><path d="M735,626 L730.5,630 L729,634 L729,644.7 L730.5,648.7 L735,652.7 Z" fill="#b3b5b8" stroke="#333" stroke-width="0.8"/><path d="M735,668.5 L730.5,672.5 L729,676.5 L729,692.3 L730.5,696.3 L735,700.3 Z" fill="#b3b5b8" stroke="#333" stroke-width="0.8"/><rect x="729" y="582" width="6" height="8" rx="2" fill="#d0d0d0" stroke="#555" stroke-width="0.7"/><rect x="729" y="689" width="6" height="8" rx="2" fill="#d0d0d0" stroke="#555" stroke-width="0.7"/></g>
<line x1="311" y1="641.4" x2="346.5" y2="641.4" stroke="#333" stroke-width="0.9" />
<polygon points="311.0,641.4 319.0,638.8 319.0,644.0" fill="#222"/>
<line x1="426" y1="641.4" x2="436" y2="641.4" stroke="#333" stroke-width="0.9" />
<line x1="506" y1="641.4" x2="536.2" y2="641.4" stroke="#333" stroke-width="0.9" />
<line x1="599" y1="641.4" x2="626.3" y2="641.4" stroke="#333" stroke-width="0.9" />
<line x1="642" y1="641.4" x2="711" y2="641.4" stroke="#333" stroke-width="0.9" />
<polygon points="711.0,641.4 703.0,644.0 703.0,638.8" fill="#222"/>
<circle cx="386.5" cy="644.9" r="40" fill="#dcdddd"/>
<circle cx="471" cy="648.2" r="32" fill="none" stroke="#d3d5d6" stroke-width="7.2"/>
<polygon points="449,626 458,629 452,635" fill="#a8aaac"/>
<polygon points="491,670 482,667 488,661" fill="#a8aaac"/>
<path d="M336.1,595.4 C336,604 339,609 342.2,608.9 C345.5,608.8 347.5,604.5 348,600.5" fill="none" stroke="#dc2a2e" stroke-width="1.8" stroke-linecap="round"/>
<polygon points="348.8,592.3 352.1,603.2 343.4,602.3" fill="#dc2a2e"/>
<path d="M332.1,685.4 C332,678 335,673.8 338,673.8 C341,673.8 343,678 343.5,682" fill="none" stroke="#dc2a2e" stroke-width="1.8" stroke-linecap="round"/>
<polygon points="343.8,690.9 338.9,680.6 347.7,680.2" fill="#dc2a2e"/>
<path d="M674.6,595.4 C674.5,604 677.5,609 680.7,608.9 C684.0,608.8 686.0,604.5 686.5,600.5" fill="none" stroke="#dc2a2e" stroke-width="1.8" stroke-linecap="round"/>
<polygon points="687.3,592.3 690.6,603.2 681.9,602.3" fill="#dc2a2e"/>
<path d="M670.6,685.4 C670.5,678 673.5,673.8 676.5,673.8 C679.5,673.8 681.5,678 682.0,682" fill="none" stroke="#dc2a2e" stroke-width="1.8" stroke-linecap="round"/>
<polygon points="682.3,690.9 677.4,680.6 686.2,680.2" fill="#dc2a2e"/>
<path d="M310.8,653.6 C318,653.5 322.5,656 322,659 C321.5,662 317,663.5 312,664.5" fill="none" stroke="#dc2a2e" stroke-width="1.8" stroke-linecap="round"/>
<polygon points="305.1,665.2 315.1,659.6 316.0,668.7" fill="#dc2a2e"/>
<path d="M626.3,652.4 C617,653 613,655.5 613.2,658 C613.4,661 617,663 621,664" fill="none" stroke="#dc2a2e" stroke-width="1.6" stroke-linecap="round"/>
<path d="M642,652.4 C650,653 653.5,655.5 653.3,658 C653.1,661 649,663 644,664" fill="none" stroke="#dc2a2e" stroke-width="1.6" stroke-linecap="round"/>
<polygon points="629.5,664.1 619.0,668.7 619.0,659.5" fill="#dc2a2e"/>
<polygon points="638.8,664.1 649.3,659.5 649.3,668.7" fill="#dc2a2e"/>
<path d="M711.5,652.3 C703,652.8 698.7,655.5 698.9,658.2 C699.2,661 702,663 706,664" fill="none" stroke="#dc2a2e" stroke-width="1.6" stroke-linecap="round"/>
<polygon points="714.2,664.5 703.7,669.1 703.7,659.9" fill="#dc2a2e"/>
<line x1="244.2" y1="573.8" x2="280" y2="573.8" stroke="#222" stroke-width="1" />
<line x1="244.2" y1="706.5" x2="280" y2="706.5" stroke="#222" stroke-width="1" />
<line x1="259.2" y1="573.8" x2="259.2" y2="624" stroke="#333" stroke-width="1" />
<polygon points="259.2,573.8 261.8,581.8 256.6,581.8" fill="#222"/>
<line x1="259.2" y1="652.5" x2="259.2" y2="706.5" stroke="#333" stroke-width="1" />
<polygon points="259.2,706.5 256.6,698.5 261.8,698.5" fill="#222"/>
<text x="240.09" y="648.0" class="sf" font-size="20.15" textLength="28.69" lengthAdjust="spacingAndGlyphs">120</text>
<line x1="742" y1="594" x2="795" y2="594" stroke="#222" stroke-width="1" />
<line x1="742" y1="685" x2="795" y2="685" stroke="#222" stroke-width="1" />
<line x1="779.5" y1="594" x2="779.5" y2="617" stroke="#333" stroke-width="1" />
<polygon points="779.5,594.0 782.1,602.0 776.9,602.0" fill="#222"/>
<line x1="779.5" y1="663" x2="779.5" y2="685" stroke="#333" stroke-width="1" />
<polygon points="779.5,685.0 776.9,677.0 782.1,677.0" fill="#222"/>
<text x="771.21" y="650.3" class="sf" font-size="20.77" textLength="19.68" lengthAdjust="spacingAndGlyphs">90</text>
<line x1="296.6" y1="706" x2="296.6" y2="742" stroke="#333" stroke-width="1" />
<line x1="727.7" y1="706" x2="727.7" y2="742" stroke="#333" stroke-width="1" />
<line x1="296.6" y1="728.6" x2="475.5" y2="728.6" stroke="#333" stroke-width="1" />
<polygon points="296.6,728.6 304.6,726.0 304.6,731.2" fill="#222"/>
<line x1="551" y1="728.6" x2="727.7" y2="728.6" stroke="#333" stroke-width="1" />
<polygon points="727.7,728.6 719.7,731.2 719.7,726.0" fill="#222"/>
<text x="498.65" y="736.9" class="sf" font-size="22.77" textLength="20.79" lengthAdjust="spacingAndGlyphs">Bi</text>
<line x1="281.5" y1="706" x2="281.5" y2="774" stroke="#333" stroke-width="1" />
<line x1="746.5" y1="706" x2="746.5" y2="774" stroke="#333" stroke-width="1" />
<line x1="281.5" y1="763" x2="533.7" y2="763" stroke="#333" stroke-width="1" />
<polygon points="281.5,763.0 289.5,760.4 289.5,765.6" fill="#222"/>
<line x1="604.8" y1="763" x2="746.5" y2="763" stroke="#333" stroke-width="1" />
<polygon points="746.5,763.0 738.5,765.6 738.5,760.4" fill="#222"/>
<text x="542.26" y="770.7" class="sf" font-size="22.77" textLength="54.58" lengthAdjust="spacingAndGlyphs">Bi+28</text>
<polyline points="791.2,574.8 786,582.5 762,582.5" fill="none" stroke="#dc2a2e" stroke-width="1.2"/>
<polygon points="754.0,582.5 765.0,578.5 765.0,586.5" fill="#dc2a2e"/>
<polyline points="813,729.7 793.8,696.4 770,696.4" fill="none" stroke="#dc2a2e" stroke-width="1.2"/>
<polygon points="761.8,696.4 772.8,692.4 772.8,700.4" fill="#dc2a2e"/>
<g transform="translate(805.3,568.4) rotate(-7.3) scale(1.0)"><rect x="0" y="-2.7" width="13" height="5.4" rx="2.2" fill="#dc2a2e" stroke="#4a1414" stroke-width="0.9"/><path d="M3.5,-2.5 l-1,5 M6.5,-2.5 l-1,5 M9.5,-2.5 l-1,5" stroke="#3a1010" stroke-width="0.9"/><ellipse cx="14" cy="0" rx="2.8" ry="4" fill="#dc2a2e" stroke="#3a1010" stroke-width="0.9"/><rect x="19" y="-5" width="11.5" height="10" rx="1" fill="#dc2a2e" stroke="#5a1a1a" stroke-width="0.8"/><ellipse cx="21.5" cy="0" rx="1.8" ry="3.6" fill="#fff" stroke="#5a1a1a" stroke-width="0.7"/><path d="M24,-4 h5" stroke="#fff" stroke-width="1"/><rect x="30.5" y="-2.8" width="24" height="5.6" fill="#dc2a2e" stroke="#6a1c1c" stroke-width="0.7"/><path d="M31,-1 h22" stroke="#fff" stroke-width="1"/><ellipse cx="57" cy="0" rx="3.6" ry="6" fill="#dc2a2e" stroke="#6a1c1c" stroke-width="0.7"/><rect x="60" y="-4.3" width="5" height="8.6" fill="#dc2a2e" stroke="#6a1c1c" stroke-width="0.7"/><path d="M64,-5.6 C72,-6.4 82,-7 90,-6.8 C94.5,-6.6 96.5,-3.5 96.5,0 C96.5,3.5 94.5,6.6 90,6.8 C82,7 72,6.4 64,5.6 Z" fill="#dc2a2e" stroke="#6a1c1c" stroke-width="0.8"/></g>
<g transform="translate(810.4,738.5) rotate(-7.3) scale(1.0)"><rect x="0" y="-2.7" width="13" height="5.4" rx="2.2" fill="#dc2a2e" stroke="#4a1414" stroke-width="0.9"/><path d="M3.5,-2.5 l-1,5 M6.5,-2.5 l-1,5 M9.5,-2.5 l-1,5" stroke="#3a1010" stroke-width="0.9"/><ellipse cx="14" cy="0" rx="2.8" ry="4" fill="#dc2a2e" stroke="#3a1010" stroke-width="0.9"/><rect x="19" y="-5" width="11.5" height="10" rx="1" fill="#dc2a2e" stroke="#5a1a1a" stroke-width="0.8"/><ellipse cx="21.5" cy="0" rx="1.8" ry="3.6" fill="#fff" stroke="#5a1a1a" stroke-width="0.7"/><path d="M24,-4 h5" stroke="#fff" stroke-width="1"/><rect x="30.5" y="-2.8" width="24" height="5.6" fill="#dc2a2e" stroke="#6a1c1c" stroke-width="0.7"/><path d="M31,-1 h22" stroke="#fff" stroke-width="1"/><ellipse cx="57" cy="0" rx="3.6" ry="6" fill="#dc2a2e" stroke="#6a1c1c" stroke-width="0.7"/><rect x="60" y="-4.3" width="5" height="8.6" fill="#dc2a2e" stroke="#6a1c1c" stroke-width="0.7"/><path d="M64,-5.6 C72,-6.4 82,-7 90,-6.8 C94.5,-6.6 96.5,-3.5 96.5,0 C96.5,3.5 94.5,6.6 90,6.8 C82,7 72,6.4 64,5.6 Z" fill="#dc2a2e" stroke="#6a1c1c" stroke-width="0.8"/></g>
</svg>
<div class="t" style="left:41.4px;top:21px;letter-spacing:0.22px;">拖链内部结构</div>
<div class="t" style="left:168.6px;top:21px;letter-spacing:0px;transform:scaleX(0.771);transform-origin:0 0;margin-top:-1px;">A</div>
<div class="t" style="left:181.1px;top:21px;letter-spacing:0px;">型</div>
<div class="t" style="left:203.3px;top:21px;letter-spacing:0px;font-weight:bold;">:</div>
<div class="t" style="left:223.8px;top:21px;letter-spacing:0.133px;">上下可分开孔式</div>
<div class="t" style="left:40.7px;top:506.4px;letter-spacing:0.34px;">拖链内部结构</div>
<div class="t" style="left:166.5px;top:506.4px;letter-spacing:0px;transform:scaleX(0.864);transform-origin:0 0;margin-top:-1.4px;">B</div>
<div class="t" style="left:179.3px;top:506.4px;letter-spacing:0px;">型</div>
<div class="t" style="left:202.7px;top:506.4px;letter-spacing:0px;font-weight:bold;">:</div>
<div class="t" style="left:220.9px;top:506.4px;letter-spacing:0.52px;">分隔片框架式</div>
<div class="t" style="left:348.4px;top:506.4px;letter-spacing:0px;">（</div>
<div class="t" style="left:369.7px;top:506.4px;letter-spacing:0.445px;">分隔片分为固定式和移动式</div>
<div class="t" style="left:626.2px;top:506.4px;letter-spacing:0px;">）</div>
<div class="t" style="left:473.5px;top:313.7px;letter-spacing:0.6px;">安装方式</div>
<div class="t" style="left:561.6px;top:313.7px;letter-spacing:0px;font-weight:bold;">:</div>
<div class="t" style="left:91.9px;top:729px;letter-spacing:0.55px;">分隔片</div>
</body></html>
